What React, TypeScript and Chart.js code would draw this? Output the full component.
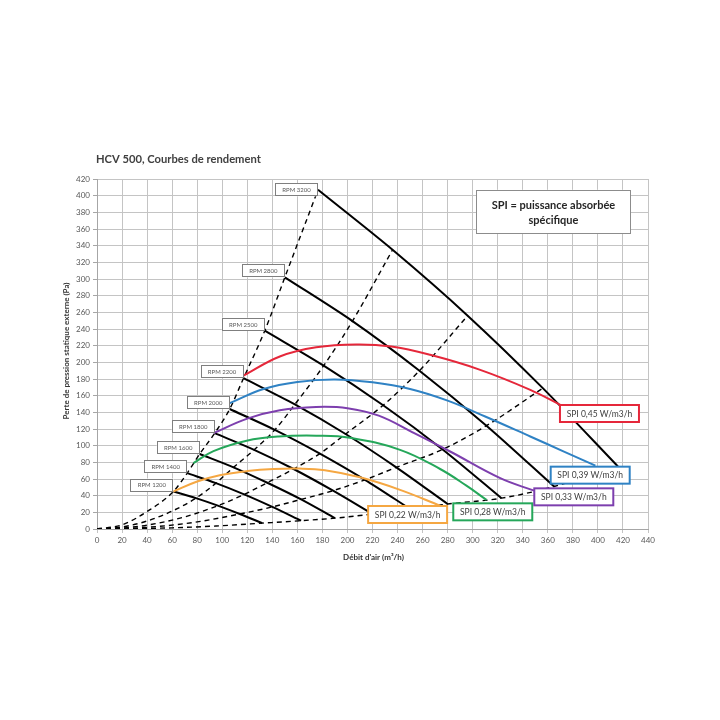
import React, { useEffect, useRef } from "react";
import { Chart, registerables } from "chart.js";

Chart.register(...registerables);

// ---- axes ----
const xMin = 0;
const xMax = 440;
const xStep = 20;
const yMin = 0;
const yMax = 420;
const yStep = 20;

// ---- texts ----
const chartTitle = "HCV 500, Courbes de rendement";
const xTitle = "Débit d'air (m³/h)";
const yTitle = "Perte de pression statique externe (Pa)";
const noteLines = ["SPI = puissance absorbée", "spécifique"];

// ---- fan curves at each speed: [débit, pression] ----
const rpmLabels = ["RPM 1200", "RPM 1400", "RPM 1600", "RPM 1800", "RPM 2000", "RPM 2200", "RPM 2500", "RPM 2800", "RPM 3200"];
const rpm1200 = [[61, 45], [79, 37], [96.5, 28], [114, 18], [132, 7]];
const rpm1400 = [[72, 67], [95, 55], [117.5, 41.5], [140, 26.5], [163, 10]];
const rpm1600 = [[82, 90], [109, 74], [136, 55.5], [163, 35.5], [190, 13]];
const rpm1800 = [[94, 115], [125.5, 95], [157, 72], [188.5, 46], [220, 18]];
const rpm2000 = [[106, 144], [142, 119], [178, 90.5], [214, 59], [250, 24]];
const rpm2200 = [[117, 181], [158, 149.5], [198.5, 114], [239, 74], [280, 30]];
const rpm2500 = [[134, 238], [181, 196], [228.5, 148.5], [276, 95.5], [323, 37]];
const rpm2800 = [[150, 302], [204, 249.5], [257.5, 190], [311, 124], [365, 51]];
const rpm3200 = [[176.5, 407], [236, 335], [296, 256], [356, 169], [416, 75]];
const rpmCurves = [rpm1200, rpm1400, rpm1600, rpm1800, rpm2000, rpm2200, rpm2500, rpm2800, rpm3200];

// ---- system curves (dashed) ----
const systemA = [[0, 0], [20, 5], [40, 21], [61, 45], [72, 67], [82, 90], [94, 115], [106, 144], [117, 181], [134, 238], [150, 302], [176.5, 407]];
const systemB = [[0, 0], [20, 2.4], [40, 9.6], [60, 21.5], [79, 37], [95, 55], [109, 74], [125.5, 95], [142, 119], [158, 149.5], [181, 196], [204, 249.5], [236, 335]];
const systemC = [[0, 0], [20, 1.2], [40, 4.6], [70, 14.5], [96.5, 28], [117.5, 41.5], [136, 55.5], [157, 72], [178, 90.5], [198.5, 114], [228.5, 148.5], [257.5, 190], [296, 256]];
const systemD = [[0, 0], [25, 0.8], [50, 3.2], [80, 8.5], [114, 18], [140, 26.5], [163, 35.5], [188.5, 46], [214, 59], [239, 74], [276, 95.5], [311, 124], [356, 169]];
const systemE = [[0, 0], [30, 0.4], [60, 1.4], [95, 3.6], [132, 7], [163, 10], [190, 13], [220, 18], [250, 24], [280, 30], [323, 37], [365, 51], [416, 75]];
const systemCurves = [systemA, systemB, systemC, systemD, systemE];

// ---- SPI curves ----
const spiLabels = ["SPI 0,22 W/m3/h", "SPI 0,28 W/m3/h", "SPI 0,33 W/m3/h", "SPI 0,39 W/m3/h", "SPI 0,45 W/m3/h"];
const spi022 = [[61, 45], [80, 57], [98, 64.5], [120, 69.5], [141, 72], [162, 72.5], [182, 70.5], [210, 62], [242, 47], [274, 28]];
const spi028 = [[77, 79], [93, 93.5], [119.5, 106], [145, 111], [175, 112], [202, 109.5], [242, 95], [274, 72], [295, 52], [311, 35]];
const spi033 = [[93, 115], [120, 132.5], [146, 142.5], [175, 146.5], [200, 145], [225, 136], [252, 116], [282, 93], [322, 61], [349, 46]];
const spi039 = [[106, 151], [133, 168], [160, 176.5], [190, 179.5], [220, 176], [250, 168], [280, 154], [310, 135], [346, 111], [372, 93.5], [398, 76]];
const spi045 = [[117, 184], [146, 207], [175, 218], [207, 221.5], [235, 219], [266, 209], [306, 191], [346, 167], [370, 149]];
const spiCurves = [spi022, spi028, spi033, spi039, spi045];
// top-left corner of each SPI label box, in data units
const spiLabelAnchors = [[216.5, 27.6], [284.5, 30.8], [349.2, 48.8], [362.3, 74.8], [369.7, 148.8]];
// note box corners in data units: left, top, right, bottom
const noteBox = [303, 407, 426, 355];

// ---- styles ----
const spiColors = ["#f5a742", "#25a75a", "#7d3fae", "#2f82c4", "#e5273a"];
const FONT = "Lato, 'Open Sans', sans-serif";

const toPts = (arr: number[][]) => arr.map(([x, y]) => ({ x, y }));

const overlay = {
  id: "overlay",
  afterDatasetsDraw(chart: any) {
    const { ctx, chartArea } = chart;
    const sx = chart.scales.x;
    const sy = chart.scales.y;
    ctx.save();

    // RPM labels
    ctx.font = `6px ${FONT}`;
    rpmCurves.forEach((c, i) => {
      const px = sx.getPixelForValue(c[0][0]);
      const py = sy.getPixelForValue(c[0][1]);
      const w = Math.round(ctx.measureText(rpmLabels[i]).width + 15);
      const h = 13;
      let top = py - h;
      if (top < chartArea.top + 4) top = py - h / 2;
      const left = px - w;
      ctx.fillStyle = "#ffffff";
      ctx.fillRect(left, top, w, h);
      ctx.strokeStyle = "#7f7f7f";
      ctx.lineWidth = 1;
      ctx.strokeRect(Math.round(left) + 0.5, Math.round(top) + 0.5, w - 1, h - 1);
      ctx.fillStyle = "#595959";
      ctx.textAlign = "center";
      ctx.textBaseline = "middle";
      ctx.fillText(rpmLabels[i], left + w / 2, top + h / 2 + 0.5);
    });

    // SPI labels
    ctx.font = `8.5px ${FONT}`;
    spiLabels.forEach((t, i) => {
      const left = sx.getPixelForValue(spiLabelAnchors[i][0]);
      const top = sy.getPixelForValue(spiLabelAnchors[i][1]);
      const w = Math.round(ctx.measureText(t).width + 13);
      const h = 17;
      ctx.fillStyle = "#ffffff";
      ctx.fillRect(left, top, w, h);
      ctx.strokeStyle = spiColors[i];
      ctx.lineWidth = 2;
      ctx.strokeRect(left, top, w, h);
      ctx.fillStyle = "#404040";
      ctx.textAlign = "center";
      ctx.textBaseline = "middle";
      ctx.fillText(t, left + w / 2, top + h / 2 + 0.5);
    });

    // Note box
    const nl = sx.getPixelForValue(noteBox[0]);
    const nt = sy.getPixelForValue(noteBox[1]);
    const nr = sx.getPixelForValue(noteBox[2]);
    const nb = sy.getPixelForValue(noteBox[3]);
    ctx.fillStyle = "#ffffff";
    ctx.fillRect(nl, nt, nr - nl, nb - nt);
    ctx.strokeStyle = "#8c8c8c";
    ctx.lineWidth = 1;
    ctx.strokeRect(Math.round(nl) + 0.5, Math.round(nt) + 0.5, Math.round(nr - nl), Math.round(nb - nt));
    ctx.fillStyle = "#262626";
    ctx.font = `bold 11px ${FONT}`;
    ctx.textAlign = "center";
    ctx.textBaseline = "middle";
    const cx = (nl + nr) / 2;
    ctx.fillText(noteLines[0], cx, nt + 16);
    ctx.fillText(noteLines[1], cx, nt + 30.5);

    ctx.restore();
  },
  afterDraw(chart: any) {
    const { ctx, chartArea } = chart;
    ctx.save();
    ctx.fillStyle = "#404040";
    ctx.font = `bold 11.2px ${FONT}`;
    ctx.textAlign = "left";
    ctx.textBaseline = "alphabetic";
    ctx.fillText(chartTitle, 96, 162.5);

    ctx.font = `bold 8px ${FONT}`;
    ctx.fillStyle = "#333333";
    ctx.textAlign = "center";
    ctx.textBaseline = "middle";
    ctx.fillText(xTitle, (chartArea.left + chartArea.right) / 2 + 1, 557);

    ctx.translate(66, (chartArea.top + chartArea.bottom) / 2 - 3);
    ctx.rotate(-Math.PI / 2);
    ctx.fillText(yTitle, 0, 0);
    ctx.restore();
  },
};

export default function App() {
  const ref = useRef<HTMLCanvasElement | null>(null);

  useEffect(() => {
    if (!ref.current) return;
    const datasets: any[] = [];
    spiCurves.forEach((c, i) =>
      datasets.push({
        label: spiLabels[i],
        data: toPts(c),
        borderColor: spiColors[i],
        borderWidth: 2,
        pointRadius: 0,
        fill: false,
        tension: 0.4,
      })
    );
    rpmCurves.forEach((c, i) =>
      datasets.push({
        label: rpmLabels[i],
        data: toPts(c),
        borderColor: "#000000",
        borderWidth: 2,
        pointRadius: 0,
        fill: false,
        tension: 0.3,
      })
    );
    systemCurves.forEach((c, i) =>
      datasets.push({
        label: "system " + i,
        data: toPts(c),
        borderColor: "#000000",
        borderWidth: 1.4,
        borderDash: [5, 4],
        pointRadius: 0,
        fill: false,
        cubicInterpolationMode: "monotone",
      })
    );

    const chart = new Chart(ref.current, {
      type: "line",
      data: { datasets },
      options: {
        animation: false,
        responsive: false,
        devicePixelRatio: 1,
        layout: { padding: { left: 0, top: 179, right: 72, bottom: 0 } },
        plugins: { legend: { display: false }, tooltip: { enabled: false } },
        scales: {
          x: {
            type: "linear",
            min: xMin,
            max: xMax,
            ticks: { stepSize: xStep, color: "#595959", font: { size: 8, family: FONT }, padding: 3, maxRotation: 0 },
            grid: { color: "#c4c4c4", lineWidth: 1, tickLength: 4, tickColor: "#c4c4c4" },
            border: { color: "#a6a6a6" },
            afterFit: (s: any) => {
              s.height = 191;
            },
          },
          y: {
            type: "linear",
            min: yMin,
            max: yMax,
            ticks: { stepSize: yStep, color: "#595959", font: { size: 8, family: FONT }, padding: 3 },
            grid: { color: "#c4c4c4", lineWidth: 1, tickLength: 4, tickColor: "#a6a6a6" },
            border: { color: "#a6a6a6" },
            afterFit: (s: any) => {
              s.width = 97;
            },
          },
        },
      },
      plugins: [overlay],
    });
    return () => chart.destroy();
  }, []);

  return (
    <div style={{ position: "absolute", left: 0, top: 0, width: 720, height: 720, background: "#ffffff" }}>
      <canvas ref={ref} width={720} height={720} />
    </div>
  );
}
